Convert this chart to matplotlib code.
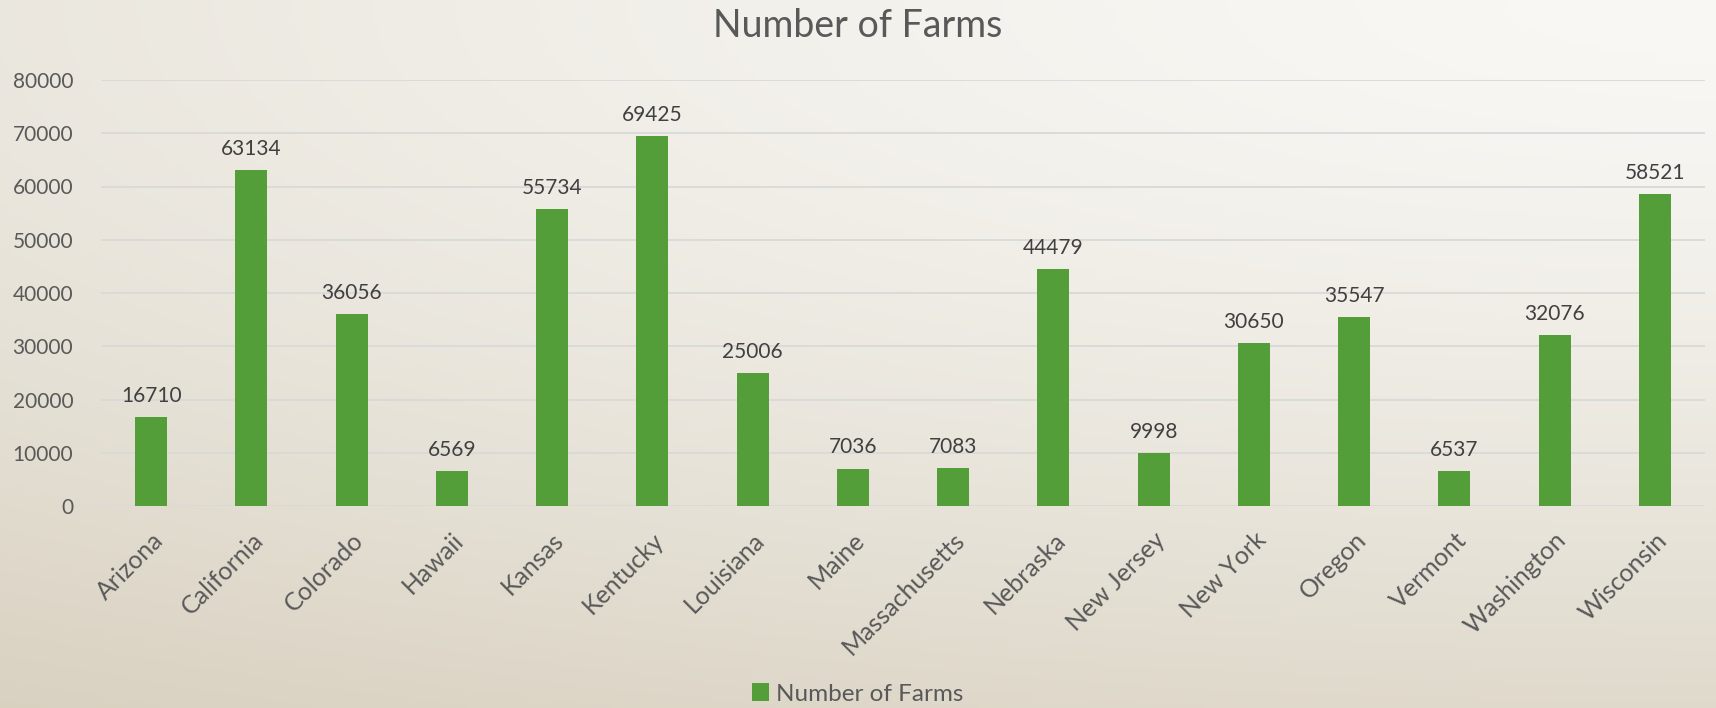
import numpy as np
import matplotlib.pyplot as plt

states = ["Arizona", "California", "Colorado", "Hawaii", "Kansas", "Kentucky",
          "Louisiana", "Maine", "Massachusetts", "Nebraska", "New Jersey",
          "New York", "Oregon", "Vermont", "Washington", "Wisconsin"]
farms = [16710, 63134, 36056, 6569, 55734, 69425, 25006, 7036, 7083, 44479,
         9998, 30650, 35547, 6537, 32076, 58521]

plt.rcParams['font.family'] = ['Lato', 'DejaVu Sans']
txt = '#595959'

fig = plt.figure(figsize=(17.16, 7.08), dpi=100)

# background gradient: light top-right, beige bottom-left
bg = fig.add_axes([0, 0, 1, 1], zorder=-10)
yy, xx = np.mgrid[0:1:200j, 0:1:400j]
d = np.sqrt((1 - xx) ** 2 * 0.6 + yy ** 2 * 1.4) / np.sqrt(2.0)
d = np.clip(d, 0, 1)
light = np.array([0.975, 0.972, 0.960])
dark = np.array([0.850, 0.820, 0.755])
img = light + (dark - light) * d[..., None] ** 1.4
bg.imshow(img, extent=[0, 1, 0, 1], aspect='auto', origin='upper')
bg.axis('off')

ax = fig.add_axes([101 / 1716, 1 - 506 / 708, 1604 / 1716, 426 / 708])
ax.patch.set_alpha(0)
x = np.arange(len(states))
bars = ax.bar(x, farms, width=0.32, color='#549e39', zorder=3, label='Number of Farms')
ax.set_xlim(-0.5, len(states) - 0.5)
ax.set_ylim(0, 80000)
ax.set_yticks(np.arange(0, 80001, 10000))
ax.yaxis.grid(True, color='#d9d9d9', lw=1.3, zorder=0)
for s in ax.spines.values():
    s.set_visible(False)
ax.tick_params(length=0, labelsize=15, labelcolor=txt)
ax.tick_params(axis='y', pad=20)
ax.set_xticks(x)
ax.set_xticklabels(states, rotation=45, ha='right', rotation_mode='anchor')
ax.tick_params(axis='x', pad=16)
for lbl in ax.get_xticklabels():
    lbl.set_fontsize(18)

for xi, v in zip(x, farms):
    ax.annotate(str(v), (xi, v), xytext=(0, 8), textcoords='offset points',
                ha='center', va='bottom', fontsize=15, color='#404040')

fig.text(0.5, 1 - 26 / 708, 'Number of Farms', ha='center', va='center',
         fontsize=27, color=txt)
fig.legend(loc='center', bbox_to_anchor=(0.5, 1 - 694 / 708), frameon=False,
           fontsize=17.5, labelcolor=txt, handlelength=0.7, handleheight=0.7,
           handletextpad=0.3)

fig.savefig('out.png', dpi=100)
